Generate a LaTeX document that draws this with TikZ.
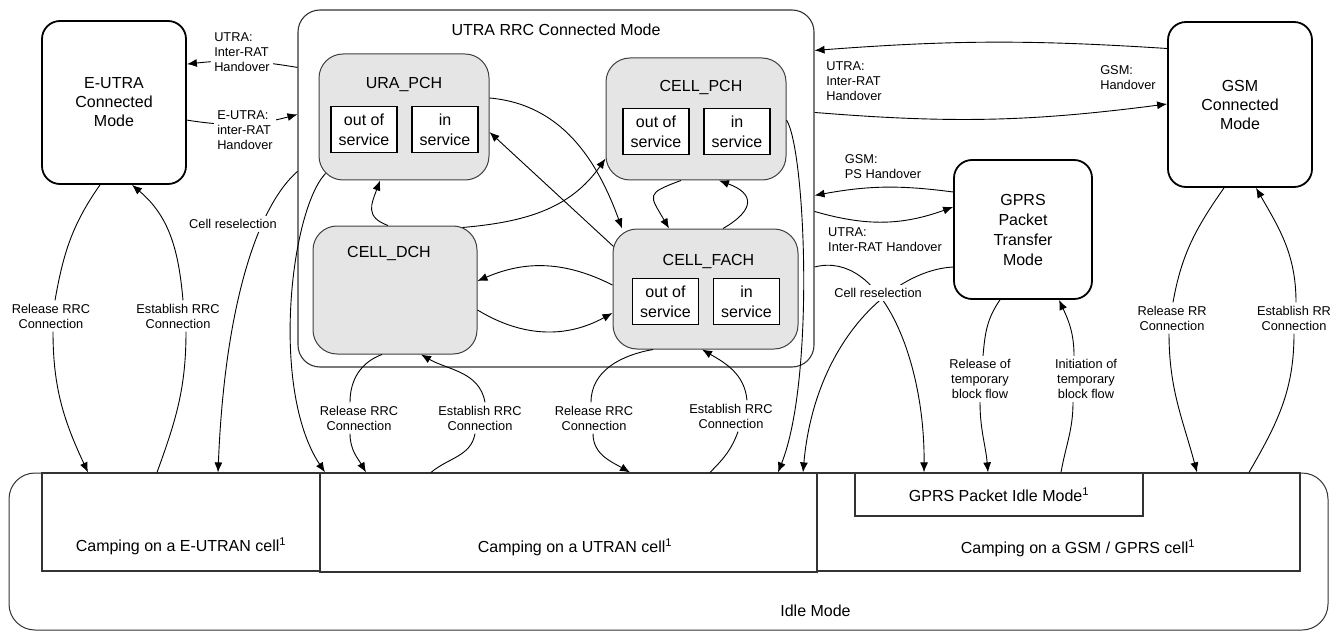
\documentclass[tikz,border=0pt]{standalone}
\usepackage{fontspec}
\setmainfont{Liberation Sans}
\usetikzlibrary{arrows.meta,positioning}

\newcommand\bigtxt{\fontsize{16}{19}\selectfont}
\newcommand\smalltxt{\fontsize{12.8}{15}\selectfont}

\begin{document}
\begin{tikzpicture}[x=1pt,y=1pt,line width=0.9pt,
  >={Latex[length=10pt,width=8pt]},
  mode/.style={draw,line width=1.8pt,rounded corners=18pt,align=center,font=\bigtxt},
  state/.style={draw=black!75,fill=black!10,line width=1pt,rounded corners=24pt},
  sttitle/.style={font=\bigtxt,inner sep=0pt},
  subbox/.style={draw,fill=white,line width=1.2pt,minimum width=66pt,minimum height=46pt,
    align=center,inner sep=0pt,font=\fontsize{16}{20}\selectfont},
  camp/.style={draw=black!80,line width=1.2pt},
  lbl/.style={font=\smalltxt,align=center,inner sep=3pt}]
  \useasboundingbox (0,0) rectangle (1332,-631);

  % connected modes
  \node[mode,minimum width=144pt,minimum height=163pt] (eutra) at (114,-102.5) {E-UTRA\\Connected\\Mode};
  \node[mode,minimum width=144pt,minimum height=165pt] (gsm) at (1240,-104.5) {GSM\\Connected\\Mode};
  \node[mode,minimum width=138pt,minimum height=139pt,font=\fontsize{16}{20}\selectfont] (gprs) at (1023,-229.5) {GPRS\\Packet\\Transfer\\Mode};

  \node[draw=black!80,line width=1.1pt,rounded corners=22pt,minimum width=516pt,minimum height=357pt] (utra) at (556,-188.5) {};
  \node[sttitle] (utra-t) at ([yshift=-20]utra.north) {UTRA RRC Connected Mode};

  \node[state,minimum width=170pt,minimum height=126pt] (urapch) at (404,-117) {};
  \node[state,minimum width=180pt,minimum height=122pt] (cellpch) at (696,-119) {};
  \node[state,minimum width=164pt,minimum height=128pt] (celldch) at (395,-290) {};
  \node[state,minimum width=185pt,minimum height=120pt] (cellfach) at (705.5,-289) {};
  \node[sttitle] (urapch-t) at ([yshift=-31]urapch.north) {URA\_PCH};
  \node[sttitle] (cellpch-t) at ([shift={(5,-30)}]cellpch.north) {CELL\_PCH};
  \node[sttitle] (celldch-t) at ([shift={(-6,-28)}]celldch.north) {CELL\_DCH};
  \node[sttitle] (cellfach-t) at ([shift={(3,-33)}]cellfach.north) {CELL\_FACH};
  \foreach \st in {urapch,cellpch,cellfach} {
    \node[subbox] (\st-o) at ([shift={(-40,-12.5)}]\st.center) {out of\\service};
    \node[subbox] (\st-i) at ([shift={(41,-12.5)}]\st.center) {in\\service};
  }

  % idle mode
  \node[draw=black!80,line width=1pt,rounded corners=26pt,minimum width=1319pt,minimum height=157pt] (idle) at (668.5,-551.5) {};
  \node[camp,minimum width=278pt,minimum height=98pt] (cellE) at (181,-522) {};
  \node[camp,minimum width=497pt,minimum height=99pt] (cellU) at (568.5,-522.5) {};
  \node[camp,minimum width=483pt,minimum height=98pt] (cellG) at (1058.5,-522) {};
  \node[camp,minimum width=288pt,minimum height=43pt,font=\bigtxt] (gprsidle) at (999,-494.5) {GPRS Packet Idle Mode\textsuperscript{1}};
  \node[font=\bigtxt] (cellE-t) at ([yshift=25]cellE.south) {Camping on a E-UTRAN cell\textsuperscript{1}};
  \node[font=\bigtxt] (cellU-t) at ([shift={(6.5,25)}]cellU.south) {Camping on a UTRAN cell\textsuperscript{1}};
  \node[font=\bigtxt] (cellG-t) at ([shift={(19.5,23)}]cellG.south) {Camping on a GSM / GPRS cell\textsuperscript{1}};
  \node[font=\bigtxt] (idle-t) at ([shift={(147,20)}]idle.south) {Idle Mode};

  % labels between arrows
  \node[lbl] (relE) at (51,-316) {Release RRC\\Connection};
  \node[lbl] (estE) at (178,-316) {Establish RRC\\Connection};
  \node[lbl] (relDch) at (359,-418) {Release RRC\\Connection};
  \node[lbl] (estDch) at (480,-418) {Establish RRC\\Connection};
  \node[lbl] (relFach) at (594,-418) {Release RRC\\Connection};
  \node[lbl] (estFach) at (731,-416) {Establish RRC\\Connection};
  \node[lbl] (relTbf) at (980,-379) {Release of\\temporary\\block flow};
  \node[lbl] (iniTbf) at (1086,-379) {Initiation of\\temporary\\block flow};
  \node[lbl] (relRr) at (1172,-318) {Release RR\\Connection};
  \node[lbl] (estRr) at (1294,-318) {Establish RR\\Connection};
  \node[lbl,align=left] (utraHoR) at (854,-81) {UTRA:\\Inter-RAT\\Handover};
  \node[lbl,align=left] (gsmHo) at (1128,-78) {GSM:\\Handover};
  \node[lbl,align=left] (gsmPs) at (883,-167) {GSM:\\PS Handover};
  \node[lbl,align=left] (utraHoG) at (885,-240) {UTRA:\\Inter-RAT Handover};

  % handovers
  \draw[->] ([yshift=-58]utra.north west) to[bend right=8] ([yshift=-44]eutra.north east);
  \draw[->] ([yshift=-100]eutra.north east) to[bend right=12] ([yshift=-105]utra.north west);
  \draw[->] ([yshift=56]gsm.west) to[bend right=4] ([yshift=-41]utra.north east);
  \draw[->] ([yshift=-103]utra.north east) to[bend right=6] ([yshift=0.5]gsm.west);
  \draw[->] ([yshift=37.5]gprs.west) to[bend right=9] ([yshift=-186]utra.north east);
  \draw[->] ([yshift=-202]utra.north east) to[bend right=18] ([yshift=22.5]gprs.west);

  % cell reselection
  \draw[->] ([yshift=-162]utra.north west) .. controls +(-38,-33) and +(7,173) .. ([xshift=37]cellE.north);
  \draw[->] ([shift={(7,7)}]urapch.south west) .. controls +(-35,-37) and +(-55,83) .. ([xshift=-243.5]cellU.north);
  \draw[->] ([yshift=-1]cellpch.east) .. controls +(19,-30) and +(37,93) .. ([xshift=209.5]cellU.north);
  \draw[->] ([yshift=-78.5]utra.east) .. controls +(66,17) and +(1,113) .. ([xshift=-75]gprsidle.north);
  \draw[->] ([yshift=-37.5]gprs.west) .. controls +(-59,-3) and +(12,133) .. ([xshift=234.5]cellU.north);

  % inside UTRA RRC connected mode
  \draw[->] ([yshift=19]urapch.east) to[out=-5,in=110] ([xshift=-83.5]cellfach.north);
  \draw[->] ([shift={(1,-18)}]cellfach.north west) -- ([yshift=-15]urapch.east);
  \draw[->] ([xshift=-7]celldch.north) to[out=160,in=250,looseness=1.4] ([xshift=-24]urapch.south);
  \draw[->] ([shift={(-15,-2)}]celldch.north east) to[out=5,in=235] ([yshift=22]cellpch.south west);
  \draw[->] ([xshift=-15]cellpch.south) to[out=200,in=120,looseness=2] ([xshift=-36.5]cellfach.north);
  \draw[->] ([xshift=17.5]cellfach.north) to[out=30,in=-20,looseness=2] ([xshift=23]cellpch.south);
  \draw[->] ([yshift=4]cellfach.west) to[bend right=25] ([yshift=9]celldch.east);
  \draw[->] ([yshift=-20]celldch.east) to[bend right=30] ([yshift=-24]cellfach.west);

  % release / establish
  \draw ([xshift=-14]eutra.south) to[out=235,in=80] ([xshift=4]relE.north);
  \draw[->] ([xshift=2]relE.south) to[out=270,in=115] ([xshift=-93]cellE.north);
  \draw ([xshift=-24]cellE.north) to[out=70,in=270] ([xshift=8]estE.south);
  \draw[->] ([xshift=5]estE.north) to[out=95,in=-40] ([xshift=18]eutra.south);

  \draw ([xshift=-13]celldch.south) to[out=200,in=90] ([xshift=-9]relDch.north);
  \draw[->] ([xshift=-9]relDch.south) to[out=270,in=120] ([xshift=-202.5]cellU.north);
  \draw ([xshift=-137.5]cellU.north) to[out=40,in=260] ([xshift=-5]estDch.south);
  \draw[->] ([xshift=5]estDch.north) to[out=100,in=-30] ([xshift=26]celldch.south);

  \draw ([xshift=-52.5]cellfach.south) to[out=190,in=90] ([xshift=-3]relFach.north);
  \draw[->] ([xshift=-1]relFach.south) to[out=270,in=150] ([xshift=61.5]cellU.north);
  \draw ([xshift=141.5]cellU.north) to[out=45,in=250] ([xshift=7]estFach.south);
  \draw[->] ([xshift=16]estFach.north) to[out=95,in=-30] ([xshift=-3.5]cellfach.south);

  \draw ([xshift=-23]gprs.south) to[out=235,in=85] ([xshift=3]relTbf.north);
  \draw[->] (relTbf.south) to[out=270,in=95] ([xshift=-11]gprsidle.north);
  \draw ([xshift=62]gprsidle.north) to[out=80,in=270] ([xshift=-13]iniTbf.south);
  \draw[->] ([xshift=-12]iniTbf.north) to[out=90,in=-65] ([xshift=36]gprs.south);

  \draw ([xshift=-16]gsm.south) to[out=235,in=80] ([xshift=1]relRr.north);
  \draw[->] ([xshift=-3]relRr.south) to[out=270,in=105] ([xshift=138.5]cellG.north);
  \draw ([xshift=190.5]cellG.north) to[out=60,in=270] (estRr.south);
  \draw[->] ([xshift=2]estRr.north) to[out=90,in=-60] ([xshift=16]gsm.south);

  % labels lying on the lines
  \node[lbl,align=left,fill=white] (utraHoL) at (242,-52) {UTRA:\\Inter-RAT\\Handover};
  \node[lbl,align=left,fill=white] (eutraHo) at (245,-130) {E-UTRA:\\inter-RAT\\Handover};
  \node[lbl,fill=white] (reselL) at (233,-224) {Cell reselection};
  \node[lbl,fill=white] (reselR) at (878,-293) {Cell reselection};
\end{tikzpicture}
\end{document}
